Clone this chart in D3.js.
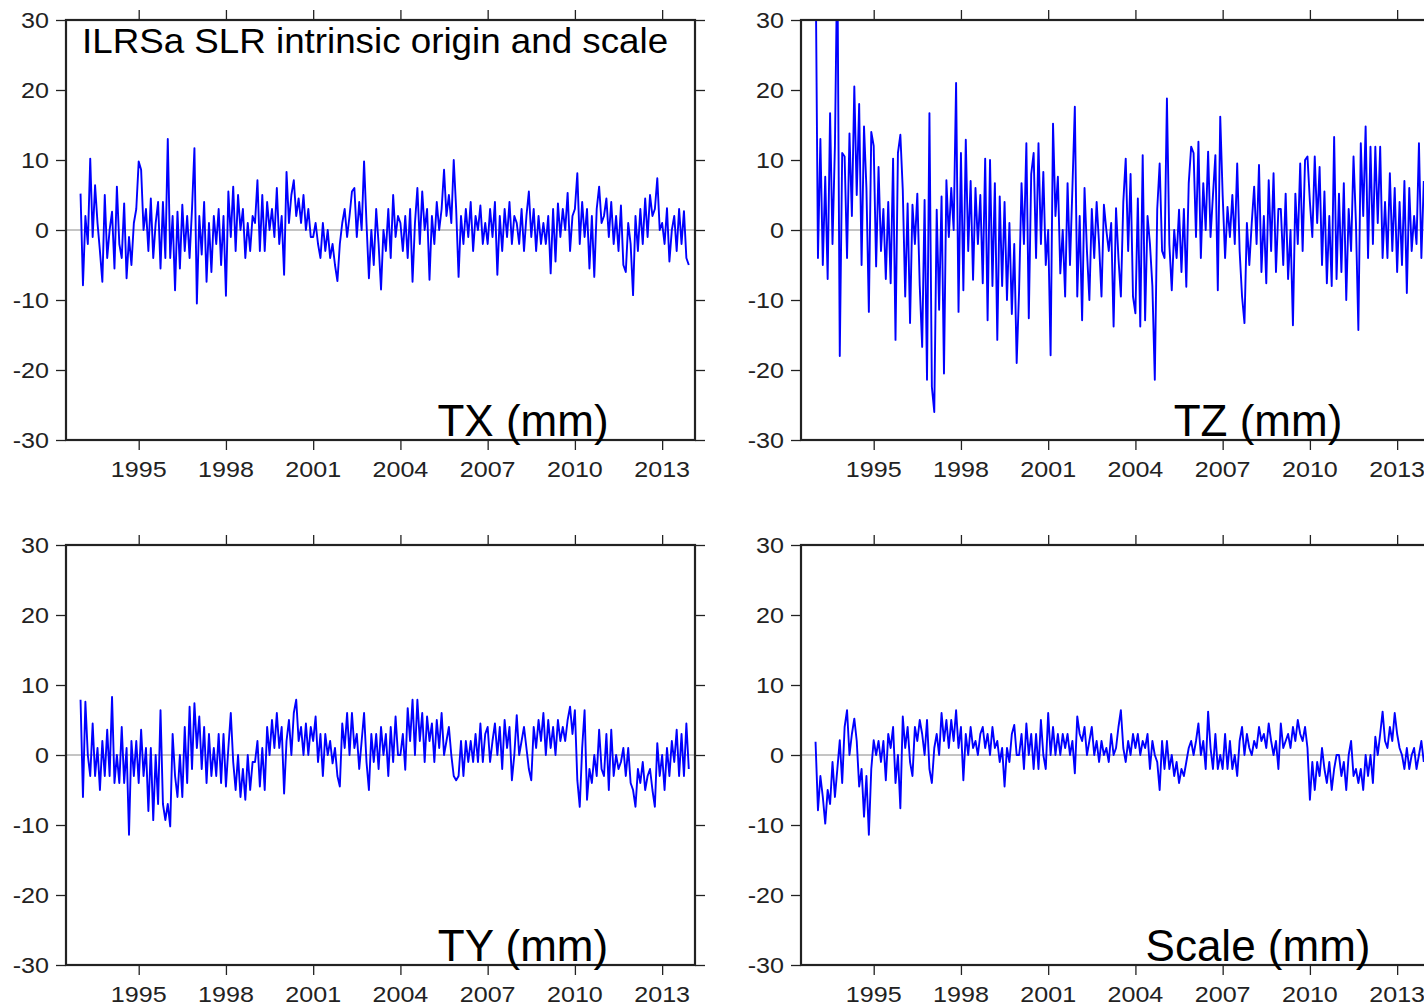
<!DOCTYPE html>
<html><head><meta charset="utf-8">
<script src="https://cdn.jsdelivr.net/npm/d3@7"></script>
<style>body{margin:0;background:#fff} svg{display:block;font-family:"Liberation Sans",Arial,sans-serif}</style>
</head><body>
<svg id="c" width="1424" height="1007"></svg>
<script>
// ---- data: monthly samples starting 1993.0 (values in mm) ----
const startYear = 1993.0;
const stepYear = 1 / 12;
const xDomain = [1992.5, 2014.13];
const yDomain = [-30, 30];
const yTicks = [-30, -20, -10, 0, 10, 20, 30];
const xTicks = [1995, 1998, 2001, 2004, 2007, 2010, 2013];
const titleText = "ILRSa SLR intrinsic origin and scale";
const panelNames = ["TX (mm)", "TZ (mm)", "TY (mm)", "Scale (mm)"];

const tx = [
 5.2,-7.9,2,-2,10.2,-1,6.4,1,-3,-7.4,5,-4,
 0,2.6,-5.5,6.2,-2,-4,3.8,-6.9,-1,-5,1,3,
 9.8,8.6,0,3,-3,4.5,-4,1,4,-5.5,4,-4,
 13,-4,2,-8.6,2.6,-5.5,3.6,-3,2,-4,3,11.7,
 -10.5,2,-3.5,4,-7.4,1,-6,2,-2,3,-5,2,
 -9.4,5.5,-1,6.2,-3,5,0,3,-4,1,-3,2,
 1,7.1,-3,5,-3,4,0,3,-1,6,-2,2,
 -6.4,8.3,1,5,7.1,2,4.5,1,5,0,3,-1,
 -1,1,-2,-4,1,-3,0,-4,-2,-5,-7.3,-2,
 1,3,-1,2,5.5,6,-1,4,0,9.8,1,-6.9,
 0,-5,3,-2,-8.5,0,-3,3,-4,5,-1,2,
 1,-3,2,-4,3,-7.4,1,6,-2,5.5,0,3,
 -7.1,2,-2,4,0,3,8.6,2,5,1,10,3,
 -6.7,2,-2,3,-1,4,-3,2,0,3.5,-2,1,
 -2,3,-1,4,-6.4,2,-3,3,-1,4,-2,2,
 1,-2,3,-3,2,5.5,-1,3,-3,2,-2,1,
 -2,2,-6.2,3,-4.5,3.8,-1,3,0,5.3,-3,2,
 3,8.1,-2,4,-1,3,-5.5,2,-6.7,3,6.2,1,
 2,4.5,-1,4,-2,2,-3,3.5,-5,-6,1,-2,
 -9.3,2,-3,3,-2,4.5,-1,5,2,3,7.4,0,
 1,-2,3.1,-4.5,0,2,-3,3,-2,2.7,-4,-5
];

const tz = [
 40,-4,13,-5,7.6,-7,16.7,-2,12,40,-18,11,
 10.5,-4,13.8,2,20.5,5,18,-5,14.8,6,-11.7,14,
 12,-5.2,9,-3,3,-7,4,-7.6,10.2,-15.7,11,13.6,
 5.7,-9.5,3.8,-13.3,3.6,-2,5.2,-8,-16.7,4.3,-21.4,16.7,
 -22.4,-26,2.9,-11.4,4.8,-20.5,7.1,-1,6,0,21,-11.7,
 11,-8.6,12.9,-3,7,-7.1,6,-2,5,-7.6,10.2,-12.9,
 10,-8,6.7,-15.7,4.8,-8,4,-10,1,-12,-2,-19,
 -8.6,6.7,-2,12.4,-12.6,8,11,-4,12.4,-2,8.3,-5,
 0,-17.9,15.2,2,7.6,-6.2,0,-9.5,6.7,-5,6,17.6,
 -9.5,2,-12.9,6,-3,-10,3,-4,4,-2,-9.5,3.6,
 0,-3,1,-13.8,3.1,-4,-9.5,4,10.2,-3,8,-9.5,
 -11.9,4.5,-13.8,10.7,-12.9,2,-2,-8,-21.4,3,9.5,-3,
 -4,18.8,-2,-8.6,0,-4,2.9,-6,3,-8.1,6.7,11.9,
 11,-1,12.6,-4,6.7,0,11.2,-1,5,10.7,-8.6,16.2,
 5,-4,3.3,-1,5,-2,9.5,-3,-9.5,-13.3,1,-5,
 1,6.2,-2,9.3,-6,2,-7.6,7.1,-3,8.1,-6,3,
 3,-5,5.2,-7,0,-13.6,5.2,-2,9.5,-3,10,10.5,
 4,-1,10.5,1,9,-5,5.5,-7.6,2,-8,13.3,-7,
 5.2,-6,6.7,-10,3,-3,10.5,1,-14.3,12.4,2,14.8,
 -4,11.9,-2,11.9,1,11.9,-4,4,-4,8.1,-3,6,
 -6,4,-5,7,-9,6,-3,2,-2,12.4,-4,7
];

const ty = [
 7.9,-6,7.6,0,-3,4.5,-3,1,-5,2,-3,3.6,
 -3,8.3,-4,0,-4,4,-4,1,-11.4,2,-3,2,
 -4,3.6,-3,1,-8,1,-9.3,0,-7,6.4,-7,-9.3,
 -7,-10.2,3,-3,-6,0,-6,4,-4,6.9,-2,7.4,
 1,5.5,-2,4,-4,3,-3,1,-3,3,-4,3,
 -4.5,1,6,-1,-5,0,-6,-2,-6.4,0,-5,-1,
 -1,2,-4.5,1,-5,4,0,5,1,6,1,4,
 -5.5,2,5,0,6,7.9,2,4,0,4.5,0,4,
 2,5.5,-1,3,-3,3,0,2,-1.2,1,-3,-4.5,
 4.5,1,6,0,6,1,3,-2,2,6,-1,-5,
 3,-1,3,-2,4,0,3,-3,4,-1,5.5,0,
 0,3,-2.1,6.7,2,7.9,0,7.9,2,6,-1,5.5,
 2,4.5,-1,5,1,6,0,2,4,0,-3,-3.6,
 -3,2,-3,2,-1,2,-1,3,-1,4.5,-1,3,
 4,-1,2,4.5,0,4,-2,5,1,4,-3.6,0,
 5.7,0,2,4,1,-2,-3.6,4,1,5,2,6,
 0,5,1,4,0,5,2,4,2,5,6.9,3,
 6.4,-3.6,-7.4,1,6.4,-6.4,-2,-4,0,-3,3.6,-2,
 -3,3,-5,3.6,-3,0,-2,-1,1,-3,1,-4,
 -5,-7.4,-2,-4,-1,-5,-3,-2,-5,-7.4,1.7,-3,
 0,-5,1,-3,2,-1,3.6,-3,3,-3,4.5,-2
];

const scale = [
 1.9,-7.9,-3,-6,-9.8,-5,-7,-1,-6,-2,2.1,-4,
 4,6.4,0,3,5.2,2,-4.5,-2,-8.8,-3,-11.4,-2,
 2.1,0,2,-1,2,-3.6,3,1,4,-4,0,-7.6,
 5.5,1,4,-1,-3,4,2,5,3,0,5,-2,
 -4,1,3,0,6,2,5,1,5,2,6.4,1,
 4,-3.6,3,0,4,1,2,0,3,4,1,3,
 0,4,1,2,-1,1,-4.5,1,-1,3,4.3,0,
 0,3,-2,4.5,0,3,-2,3,-2,5,0,-2,
 6,0,4,0,3,0,3,1,3,0,2,-2.6,
 5.5,3,2,4,0,2,4,0,2,-1,2,0,
 1,-1,3,0,1,4,6.4,1,-1,2,0,3,
 1,3,0,2,1,3,-2,2,0,-1,-5,2,
 -2,2,-2,0,-3,-1,-4,-2,-3,-1,1,2,
 0,2,4.5,0,2,-2,6.2,1,-2,3,-2,0,
 -2,3,-2,2,-2,0,-3,2,4,0,3,1,
 0,2,1,4,2,3,1,4.5,2,0,2,-2,
 4.5,1,2,3,1,4,2,5,3,2,4,1,
 -6.4,-1,-5,-1,-3,1,-2,-4,-1,-5,-2,0,
 0,-3,-1,-5,0,2,-3,-2,-4,-2,-5,0,
 -3,0,-4,2.6,0,3,6.2,2,1,4,2,6,
 3,1,0,-2,1,-2,0,1,-2,0,2,-1
];

// ---- layout ----
const W = 629, H = 420;
const panels = [
  {data: tx,    name: panelNames[0], left: 66,  top: 20,  title: true},
  {data: tz,    name: panelNames[1], left: 801, top: 20},
  {data: ty,    name: panelNames[2], left: 66,  top: 545},
  {data: scale, name: panelNames[3], left: 801, top: 545}
];

const svg = d3.select("#c");
const x = d3.scaleLinear().domain(xDomain).range([0, W]);
const y = d3.scaleLinear().domain(yDomain).range([H, 0]);
const axisColor = "#222";
const labelStretch = 1.14;

panels.forEach((p, i) => {
  const g = svg.append("g").attr("transform", `translate(${p.left},${p.top})`);
  const clipId = "clip" + i;
  g.append("clipPath").attr("id", clipId)
    .append("rect").attr("x", 0).attr("y", 0).attr("width", W).attr("height", H);

  // zero line
  g.append("line").attr("x1", 0).attr("x2", W).attr("y1", y(0)).attr("y2", y(0))
    .attr("stroke", "#8a8a8a").attr("stroke-width", 1);

  // series
  const pts = p.data.map((v, k) => [startYear + k * stepYear, v]);
  const line = d3.line().x(d => x(d[0])).y(d => y(d[1]));
  g.append("path").attr("d", line(pts)).attr("clip-path", `url(#${clipId})`)
    .attr("fill", "none").attr("stroke", "#0000ff").attr("stroke-width", 1.9)
    .attr("stroke-linejoin", "round");

  // axes (ticks outward on all sides)
  const styleAxis = sel => {
    sel.select(".domain").remove();
    sel.selectAll(".tick line").attr("stroke", axisColor).attr("stroke-width", 1.3);
    sel.selectAll(".tick text").remove();
  };
  g.append("g").call(d3.axisLeft(y).tickValues(yTicks).tickSize(10)).call(styleAxis);
  g.append("g").attr("transform", `translate(${W},0)`)
    .call(d3.axisRight(y).tickValues(yTicks).tickSize(10)).call(styleAxis);
  g.append("g").call(d3.axisTop(x).tickValues(xTicks).tickSize(10)).call(styleAxis);
  g.append("g").attr("transform", `translate(0,${H})`)
    .call(d3.axisBottom(x).tickValues(xTicks).tickSize(10)).call(styleAxis);

  // frame
  g.append("rect").attr("x", 0).attr("y", 0).attr("width", W).attr("height", H)
    .attr("fill", "none").attr("stroke", axisColor).attr("stroke-width", 2.2);

  // tick labels (plain hyphen minus as in the original)
  yTicks.forEach(v => {
    g.append("text").attr("transform", `translate(-17,${y(v) + 8}) scale(${labelStretch},1)`)
      .attr("text-anchor", "end").attr("font-size", 22).attr("fill", "#222").text(String(v));
  });
  xTicks.forEach(t => {
    g.append("text").attr("transform", `translate(${x(t)},${H + 37}) scale(${labelStretch},1)`)
      .attr("text-anchor", "middle").attr("font-size", 22).attr("fill", "#222").text(String(t));
  });

  // panel label
  g.append("text").attr("x", 457).attr("y", 416).attr("text-anchor", "middle")
    .attr("font-size", 44).attr("fill", "#000").text(p.name);

  if (p.title) {
    g.append("text").attr("transform", `translate(16,33) scale(1.05,1)`)
      .attr("font-size", 35).attr("fill", "#000").text(titleText);
  }
});
</script>
</body></html>
